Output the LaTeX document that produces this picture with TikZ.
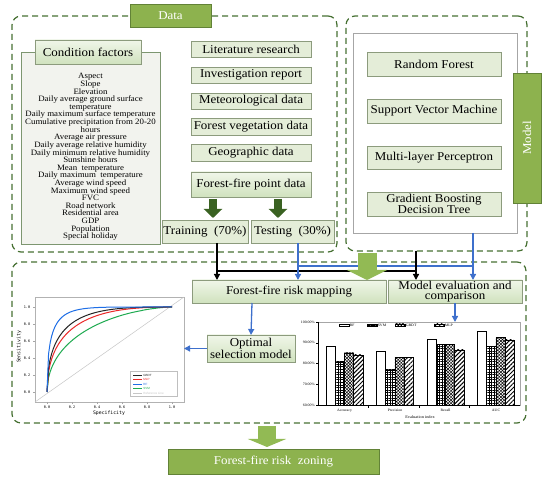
\documentclass[tikz,border=0pt]{standalone}
\usepackage{fontspec}
\setmainfont{Liberation Serif}[FakeStretch=1.08]
\setsansfont{Liberation Sans}
\setmonofont{DejaVu Sans Mono}
\usetikzlibrary{arrows.meta, patterns, patterns.meta}

\definecolor{dashgreen}{RGB}{70,112,50}
\definecolor{olivebox}{RGB}{141,178,78}
\definecolor{oliveline}{RGB}{98,130,55}
\definecolor{palebox}{RGB}{228,237,216}
\definecolor{paleline}{RGB}{140,155,125}
\definecolor{shadetop}{RGB}{240,246,233}
\definecolor{shadebot}{RGB}{208,226,190}
\definecolor{panelfill}{RGB}{242,243,238}
\definecolor{panelline}{RGB}{125,150,112}
\definecolor{darkarrow}{RGB}{58,98,34}
\definecolor{lightarrow}{RGB}{146,186,84}
\definecolor{flowblue}{RGB}{62,112,204}
\definecolor{rocblue}{RGB}{30,110,230}
\definecolor{rocred}{RGB}{235,40,40}
\definecolor{rocgreen}{RGB}{30,170,80}

\begin{document}
\begin{tikzpicture}[
  x=1pt,
  y=-1pt,
  dashframe/.style={draw=dashgreen, line width=1.2pt, dash pattern=on 6pt off 4pt, rounded corners=9pt, inner sep=0pt, outer sep=0pt},
  pale/.style={draw=paleline, fill=palebox, line width=0.8pt, inner sep=0pt, outer sep=0pt, align=center, font=\fontsize{12}{13}\selectfont},
  paleshade/.style={pale, top color=shadetop, bottom color=shadebot},
  olive/.style={draw=oliveline, fill=olivebox, line width=0.8pt, text=white, inner sep=0pt, outer sep=0pt, font=\fontsize{12}{13}\selectfont},
  flowblk/.style={draw=black, line width=1.3pt},
  flowblu/.style={draw=flowblue, line width=1.3pt},
  headed/.style={-{Triangle[width=6pt,length=6pt]}},
  fatdark/.style={draw=darkarrow, line width=8pt, -{Triangle[width=18pt,length=9pt]}},
  fatlight/.style={draw=lightarrow, line width=19pt, -{Triangle[width=40pt,length=10pt]}},
  fatbottom/.style={draw=lightarrow, line width=18pt, -{Triangle[width=38pt,length=8pt]}},
  ticklbl/.style={font=\ttfamily\fontsize{3.5}{4}\selectfont, inner sep=0pt},
  legendtxt/.style={font=\sffamily\fontsize{3}{3.5}\selectfont, inner sep=1pt},
  barlbl/.style={font=\fontsize{3.6}{4}\selectfont, inner sep=0pt},
  rf/.style={draw=black, line width=0.6pt, fill=white},
  svm/.style={rf, pattern={Hatch[angle=0, distance=2.6pt, line width=0.5pt]}},
  gbdt/.style={rf, pattern={Hatch[angle=45, distance=2.2pt, line width=0.5pt]}},
  mlp/.style={rf, pattern={Lines[angle=45, distance=3pt, line width=1pt]}}
  ]
\useasboundingbox (0,0) rectangle (550,481);

% Frames
\node[dashframe, minimum width=325pt, minimum height=236pt] (dataframe) at (174.5,134) {};
\node[dashframe, minimum width=181pt, minimum height=235pt] (modelframe) at (436.5,133.5) {};
\node[dashframe, minimum width=514pt, minimum height=161pt] (lowframe) at (269,342.5) {};
\node[olive, minimum width=81pt, minimum height=23pt] (datalbl) at (170.5,15.5) {Data};

% Condition factors
\node[draw=panelline, fill=panelfill, line width=0.8pt, minimum width=139pt, minimum height=192pt, inner sep=0pt] (condpanel) at (90.5,148) {};
\node[paleshade, minimum width=106pt, minimum height=24pt] (condhead) at (88,52) {Condition factors};
\node[align=center, font=\fontsize{8.2}{7.62}\selectfont, inner sep=0pt] (condlist) at (90.5,157) {Aspect\\Slope\\Elevation\\Daily average ground surface\\temperature\\Daily maximum surface temperature\\Cumulative precipitation from 20-20\\hours\\Average air pressure\\Daily average relative humidity\\Daily minimum relative humidity\\Sunshine hours\\Mean~ temperature\\Daily maximum~ temperature\\Average wind speed\\Maximum wind speed\\FVC\\Road network\\Residential area\\GDP\\Population\\Special holiday};

% data sources
\node[pale, minimum width=120pt, minimum height=16pt] (lit) at (251,49) {Literature research};
\node[pale, minimum width=120pt, minimum height=16pt] (inv) at (251,75) {Investigation report};
\node[pale, minimum width=120pt, minimum height=16pt] (met) at (251,101) {Meteorological data};
\node[pale, minimum width=120pt, minimum height=17pt] (veg) at (251,126.5) {Forest vegetation data};
\node[pale, minimum width=120pt, minimum height=17pt] (geo) at (251,152.5) {Geographic data};
\node[paleshade, minimum width=120pt, minimum height=25pt] (ffpoint) at (251,184.5) {Forest-fire point data};
\node[pale, minimum width=86pt, minimum height=23pt] (train) at (205,231.5) {Training~ (70\%)};
\node[pale, minimum width=83pt, minimum height=23pt] (test) at (292.5,231.5) {Testing~ (30\%)};
\draw[fatdark, shorten <=2pt, shorten >=2pt] ([xshift=-38pt]ffpoint.south) -- ([xshift=8pt]train.north);
\draw[fatdark, shorten <=2pt, shorten >=2pt] ([xshift=27pt]ffpoint.south) -- ([xshift=-14.5pt]test.north);

% models
\node[draw=gray!70, fill=white, line width=0.8pt, minimum width=164pt, minimum height=200pt, inner sep=0pt, outer sep=0pt] (modelin) at (435,133) {};
\node[pale, minimum width=134pt, minimum height=24pt] (rfbox) at (434,64) {Random Forest};
\node[pale, minimum width=134pt, minimum height=24pt] (svmbox) at (434,111) {Support Vector Machine};
\node[pale, minimum width=134pt, minimum height=23pt] (mlpbox) at (434,157.5) {Multi-layer Perceptron};
\node[pale, minimum width=134pt, minimum height=24pt, font=\fontsize{12}{11.5}\selectfont] (gbdtbox) at (434,204) {Gradient Boosting\\Decision Tree};
\node[olive, rotate=90, minimum width=130pt, minimum height=28pt] (modellbl) at (527,138) {Model};

% mapping and evaluation
\node[paleshade, minimum width=194pt, minimum height=23pt] (mapping) at (289,291.5) {Forest-fire risk mapping};
\node[paleshade, minimum width=134pt, minimum height=23pt, font=\fontsize{12}{10.5}\selectfont] (evalbox) at (455,291.5) {Model evaluation and\\comparison};
\node[paleshade, minimum width=88pt, minimum height=27pt, font=\fontsize{12}{11.5}\selectfont] (optimal) at (251,348.5) {Optimal\\selection model};

% connectors
\coordinate (blkjoin) at (217,271);
\coordinate (blkend) at (416,271);
\coordinate (blujoin) at (298,266);
\coordinate (bluend) at (473,266);
\coordinate (greenfrom) at (367,253);
\draw[flowblu] (blujoin) -- (bluend);
\draw[flowblk] (blkjoin) -- (blkend);
\draw[flowblk, headed] ([xshift=12pt]train.south) -- ([xshift=-72pt]mapping.north);
\draw[flowblu, headed] ([xshift=5.5pt]test.south) -- ([xshift=9pt]mapping.north);
\draw[flowblk, headed] ([xshift=-20.5pt]modelframe.south) -- ([xshift=-39pt]evalbox.north);
\draw[flowblu, headed] ([xshift=38pt]modelin.south) -- ([xshift=18pt]evalbox.north);
\draw[fatlight] (greenfrom) -- ([xshift=78pt]mapping.north);

% ROC plot
\node[draw=gray!60, fill=white, line width=0.5pt, minimum width=149pt, minimum height=105pt, inner sep=0pt, outer sep=0pt] (roc) at (109.5,349.5) {};
\draw[gray!45, line width=0.5pt] (roc.south west) -- (roc.north east);
\draw[rocgreen, line width=1pt] plot[domain=0:0.98, samples=80] ({47+125*\x},{392-85*(1-(1-sqrt(\x))^1.57)}) -- (172,307);
\draw[rocred, line width=1pt] plot[domain=0:0.98, samples=80] ({47+125*\x},{392-85*(1-(1-sqrt(\x))^2.29)}) -- (172,307);
\draw[black!85, line width=1pt] plot[domain=0:0.98, samples=80] ({47+125*\x},{392-85*(1-(1-sqrt(\x))^2.8)}) -- (172,307);
\draw[rocblue, line width=1pt] plot[domain=0:0.98, samples=80] ({47+125*\x},{392-85*(1-(1-sqrt(\x))^5)}) -- (172,307);
\draw[gray!70, line width=0.4pt] (35,392) -- +(-2,0) (35,375) -- +(-2,0) (35,358) -- +(-2,0) (35,341) -- +(-2,0) (35,324) -- +(-2,0) (35,307) -- +(-2,0);
\draw[gray!70, line width=0.4pt] (47,402) -- +(0,2) (72,402) -- +(0,2) (97,402) -- +(0,2) (122,402) -- +(0,2) (147,402) -- +(0,2) (172,402) -- +(0,2);
\node[ticklbl] (ry0) at (27,392) {0.0};
\node[ticklbl] (ry2) at (27,375) {0.2};
\node[ticklbl] (ry4) at (27,358) {0.4};
\node[ticklbl] (ry6) at (27,341) {0.6};
\node[ticklbl] (ry8) at (27,324) {0.8};
\node[ticklbl] (ry10) at (27,307) {1.0};
\node[ticklbl] (rx0) at (47,407) {0.0};
\node[ticklbl] (rx2) at (72,407) {0.2};
\node[ticklbl] (rx4) at (97,407) {0.4};
\node[ticklbl] (rx6) at (122,407) {0.6};
\node[ticklbl] (rx8) at (147,407) {0.8};
\node[ticklbl] (rx10) at (172,407) {1.0};
\node[ticklbl, font=\ttfamily\fontsize{4.8}{5}\selectfont] (rxlbl) at (109,413) {Specificity};
\node[ticklbl, rotate=90, font=\ttfamily\fontsize{4.8}{5}\selectfont] (rylbl) at (19,347) {Sensitivity};
% ROC legend
\node[draw=gray!50, fill=white, line width=0.4pt, minimum width=47pt, minimum height=25pt, inner sep=0pt] (roclgd) at (153.5,383.5) {};
\draw[black!85, line width=0.8pt] (133,375) -- +(9,0) node[legendtxt, right] (lgbdt) {GBDT};
\draw[rocred, line width=0.8pt] (133,379.5) -- +(9,0) node[legendtxt, right] (lmlp) {MLP};
\draw[rocblue, line width=0.8pt] (133,384) -- +(9,0) node[legendtxt, right] (lrfc) {RF};
\draw[rocgreen, line width=0.8pt] (133,388.5) -- +(9,0) node[legendtxt, right] (lsvm) {SVM};
\draw[gray!45, line width=0.8pt] (133,393) -- +(9,0) node[legendtxt, right] (lref) {Reference Line};

% bar chart
\node[draw=gray!70, fill=white, line width=0.6pt, minimum width=202pt, minimum height=83pt, inner sep=0pt, outer sep=0pt] (bars) at (419,363.5) {};
\draw[line width=0.5pt] (bars.north west) -- (bars.south west) -- (bars.south east);
\draw[line width=0.4pt] (318,322) -- +(-2,0) (318,342.75) -- +(-2,0) (318,363.5) -- +(-2,0) (318,384.25) -- +(-2,0) (318,405) -- +(-2,0);
\draw[line width=0.4pt] (368.5,405) -- +(0,3) (419,405) -- +(0,3) (469.5,405) -- +(0,3);
\node[barlbl, anchor=east] (by100) at (315,322) {100.00\%};
\node[barlbl, anchor=east] (by90) at (315,342.75) {90.00\%};
\node[barlbl, anchor=east] (by80) at (315,363.5) {80.00\%};
\node[barlbl, anchor=east] (by70) at (315,384.25) {70.00\%};
\node[barlbl, anchor=east] (by60) at (315,405) {60.00\%};
\node[barlbl] (cacc) at (344.5,410.5) {Accuracy};
\node[barlbl] (cpre) at (395,410.5) {Precision};
\node[barlbl] (crec) at (445.5,410.5) {Recall};
\node[barlbl] (cauc) at (496,410.5) {AUC};
\node[barlbl, font=\fontsize{4}{4}\selectfont] (cidx) at (420,417) {Evaluation index};

% Accuracy
\draw[rf]  (326, 405) rectangle +(9.2, -58.2);
\draw[svm]  (335.2, 405) rectangle +(9.2, -43);
\draw[gbdt]  (344.4, 405) rectangle +(9.2, -52);
\draw[mlp]  (353.6, 405) rectangle +(9.2, -50);
% Precision
\draw[rf]  (376.5, 405) rectangle +(9.2, -54);
\draw[svm]  (385.7, 405) rectangle +(9.2, -35);
\draw[gbdt]  (394.9, 405) rectangle +(9.2, -47.3);
\draw[mlp]  (404.1, 405) rectangle +(9.2, -47.7);
% Recall
\draw[rf]  (427, 405) rectangle +(9.2, -65.7);
\draw[svm]  (436.2, 405) rectangle +(9.2, -60.3);
\draw[gbdt]  (445.4, 405) rectangle +(9.2, -60.7);
\draw[mlp]  (454.6, 405) rectangle +(9.2, -55);
% AUC
\draw[rf]  (477.5, 405) rectangle +(9.2, -73.3);
\draw[svm]  (486.7, 405) rectangle +(9.2, -58.3);
\draw[gbdt]  (495.9, 405) rectangle +(9.2, -67.7);
\draw[mlp]  (505.1, 405) rectangle +(9.2, -65);

%legend
\draw[rf] (339,324) rectangle +(10,2.6) node[barlbl, anchor=west, xshift=0.5pt, yshift=1.3pt] (brf) {RF};
\draw[svm] (367,324) rectangle +(10,2.6) node[barlbl, anchor=west, xshift=0.5pt, yshift=1.3pt] (bsvm) {SVM};
\draw[gbdt] (395,324) rectangle +(10,2.6) node[barlbl, anchor=west, xshift=0.5pt, yshift=1.3pt] (bgbdt) {GBDT};
\draw[mlp] (434,324) rectangle +(10,2.6) node[barlbl, anchor=west, xshift=0.5pt, yshift=1.3pt] (bmlp) {MLP};

% selection arrows
\draw[flowblu, headed] ([xshift=-37pt]mapping.south) -- (optimal.north);
\draw[flowblu, headed] (optimal.west) -- (optimal.west -| roc.east);
\draw[flowblu, headed] (evalbox.south) -- (evalbox.south |- bars.north);

% zoning
\node[olive, minimum width=211pt, minimum height=25pt] (zoning) at (273.5,461.5) {Forest-fire risk~ zoning};
\draw[fatbottom, shorten <=3pt, shorten >=2pt] ([xshift=-2pt]lowframe.south) -- ([xshift=-6.5pt]zoning.north);

\end{tikzpicture}
\end{document}
